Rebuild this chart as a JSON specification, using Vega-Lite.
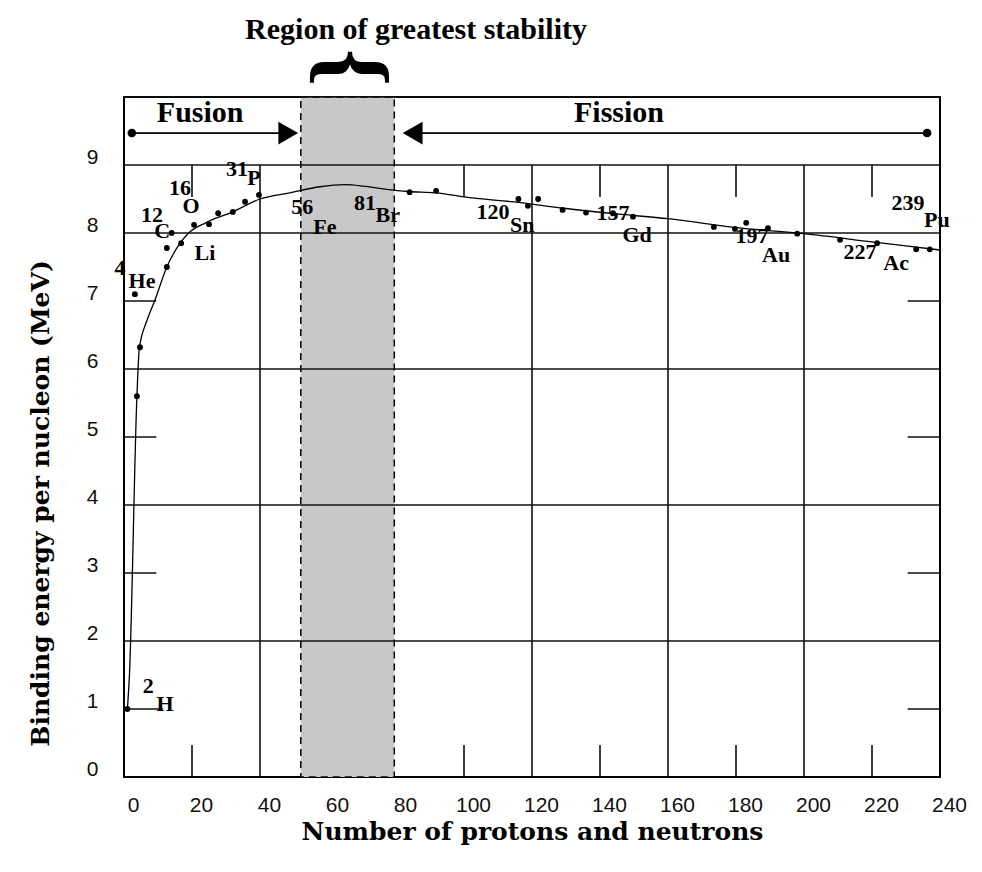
{
  "$schema": "https://vega.github.io/schema/vega-lite/v6.json",
  "width": 816,
  "height": 680,
  "autosize": {"type": "none"},
  "padding": {"left": 124, "top": 97, "right": 42, "bottom": 95},
  "background": "white",
  "config": {"view": {"stroke": "black", "strokeWidth": 2}},
  "datasets": {
    "region": [{"x": 52, "x2": 79.5, "y": 0, "y2": 10}],
    "grid": [
      {"x": 0, "x2": 240, "y": 10, "y2": 10},
      {"x": 0, "x2": 240, "y": 9, "y2": 9},
      {"x": 0, "x2": 240, "y": 8, "y2": 8},
      {"x": 0, "x2": 240, "y": 6, "y2": 6},
      {"x": 0, "x2": 240, "y": 4, "y2": 4},
      {"x": 0, "x2": 240, "y": 2, "y2": 2},
      {"x": 0, "x2": 9.5, "y": 7, "y2": 7},
      {"x": 0, "x2": 9.5, "y": 5, "y2": 5},
      {"x": 0, "x2": 9.5, "y": 3, "y2": 3},
      {"x": 0, "x2": 11.5, "y": 1, "y2": 1},
      {"x": 230.5, "x2": 240, "y": 7, "y2": 7},
      {"x": 230.5, "x2": 240, "y": 5, "y2": 5},
      {"x": 230.5, "x2": 240, "y": 3, "y2": 3},
      {"x": 230.5, "x2": 240, "y": 1, "y2": 1},
      {"x": 40, "x2": 40, "y": 0, "y2": 9},
      {"x": 120, "x2": 120, "y": 0, "y2": 9},
      {"x": 160, "x2": 160, "y": 0, "y2": 9},
      {"x": 200, "x2": 200, "y": 0, "y2": 9},
      {"x": 20, "x2": 20, "y": 8.53, "y2": 9},
      {"x": 100, "x2": 100, "y": 8.53, "y2": 9},
      {"x": 140, "x2": 140, "y": 8.53, "y2": 9},
      {"x": 180, "x2": 180, "y": 8.53, "y2": 9},
      {"x": 220, "x2": 220, "y": 8.53, "y2": 9},
      {"x": 20, "x2": 20, "y": 0, "y2": 0.47},
      {"x": 100, "x2": 100, "y": 0, "y2": 0.47},
      {"x": 140, "x2": 140, "y": 0, "y2": 0.47},
      {"x": 180, "x2": 180, "y": 0, "y2": 0.47},
      {"x": 220, "x2": 220, "y": 0, "y2": 0.47}
    ],
    "curve": [
      {"x": 1.0, "y": 1.0}, {"x": 1.6, "y": 1.5}, {"x": 3.8, "y": 5.6}, {"x": 4.5, "y": 6.3},
      {"x": 6.8, "y": 6.72}, {"x": 9, "y": 7.0}, {"x": 12.6, "y": 7.5}, {"x": 16.5, "y": 7.85}, {"x": 19, "y": 8.0},
      {"x": 24, "y": 8.15}, {"x": 32, "y": 8.31}, {"x": 40, "y": 8.5}, {"x": 48.8, "y": 8.59},
      {"x": 57.6, "y": 8.68}, {"x": 65, "y": 8.71}, {"x": 70.3, "y": 8.69}, {"x": 76.2, "y": 8.65},
      {"x": 83.5, "y": 8.61}, {"x": 91.8, "y": 8.59}, {"x": 100, "y": 8.53}, {"x": 116, "y": 8.45},
      {"x": 130, "y": 8.36}, {"x": 145, "y": 8.28}, {"x": 160, "y": 8.21}, {"x": 180, "y": 8.08},
      {"x": 200, "y": 7.99}, {"x": 220, "y": 7.87}, {"x": 240, "y": 7.75}
    ],
    "dots": [
      {"x": 1, "y": 1.0}, {"x": 3.8, "y": 5.6}, {"x": 4.7, "y": 6.32}, {"x": 3.2, "y": 7.1},
      {"x": 12.6, "y": 7.5}, {"x": 12.6, "y": 7.78}, {"x": 16.8, "y": 7.85}, {"x": 14, "y": 8.0},
      {"x": 20.6, "y": 8.12}, {"x": 25, "y": 8.13}, {"x": 27.7, "y": 8.29}, {"x": 32, "y": 8.31},
      {"x": 35.6, "y": 8.46}, {"x": 39.7, "y": 8.56}, {"x": 84, "y": 8.6}, {"x": 91.8, "y": 8.62},
      {"x": 116, "y": 8.5}, {"x": 118.8, "y": 8.4}, {"x": 121.8, "y": 8.5}, {"x": 129, "y": 8.34},
      {"x": 135.9, "y": 8.3}, {"x": 143.8, "y": 8.29}, {"x": 149.7, "y": 8.24}, {"x": 173.5, "y": 8.09},
      {"x": 179.7, "y": 8.06}, {"x": 183, "y": 8.15}, {"x": 189.4, "y": 8.07}, {"x": 198, "y": 7.99},
      {"x": 210.6, "y": 7.9}, {"x": 221.5, "y": 7.85}, {"x": 233, "y": 7.76}, {"x": 237, "y": 7.76}
    ],
    "arrows": [
      {"x": 2.3, "x2": 50, "y": 9.47, "y2": 9.47},
      {"x": 85, "x2": 236.2, "y": 9.47, "y2": 9.47}
    ],
    "arrowEnds": [{"x": 2.3, "y": 9.47}, {"x": 236.2, "y": 9.47}],
    "headRight": [{"x": 48.3, "y": 9.47}],
    "headLeft": [{"x": 84.9, "y": 9.47}],
    "labels": [
      {"t": "2", "x": 7.1, "y": 1.34}, {"t": "H", "x": 12.1, "y": 1.07},
      {"t": "4", "x": -1.2, "y": 7.49}, {"t": "He", "x": 5.3, "y": 7.29},
      {"t": "12", "x": 8.2, "y": 8.26}, {"t": "C", "x": 11.2, "y": 8.03},
      {"t": "16", "x": 16.5, "y": 8.66}, {"t": "O", "x": 19.7, "y": 8.4},
      {"t": "Li", "x": 23.8, "y": 7.71},
      {"t": "31", "x": 33.2, "y": 8.94}, {"t": "P", "x": 38.2, "y": 8.81},
      {"t": "56", "x": 52.4, "y": 8.38}, {"t": "Fe", "x": 59.1, "y": 8.09},
      {"t": "81", "x": 70.9, "y": 8.44}, {"t": "Br", "x": 77.6, "y": 8.26},
      {"t": "120", "x": 108.5, "y": 8.31}, {"t": "Sn", "x": 117.1, "y": 8.12},
      {"t": "157", "x": 143.8, "y": 8.29}, {"t": "Gd", "x": 150.9, "y": 7.97},
      {"t": "197", "x": 184.7, "y": 7.96}, {"t": "Au", "x": 191.8, "y": 7.68},
      {"t": "227", "x": 216.5, "y": 7.72}, {"t": "Ac", "x": 227.1, "y": 7.56},
      {"t": "239", "x": 230.6, "y": 8.44}, {"t": "Pu", "x": 239.1, "y": 8.19}
    ],
    "headings": [
      {"t": "Fusion", "x": 22.4, "y": 9.76},
      {"t": "Fission", "x": 145.6, "y": 9.76},
      {"t": "Region of greatest stability", "x": 85.9, "y": 10.99}
    ],
    "brace": [{"t": "{", "x": 67, "y": 10.43}]
  },
  "encoding": {
    "x": {
      "field": "x", "type": "quantitative",
      "scale": {"domain": [0, 240], "nice": false, "zero": false},
      "axis": {
        "title": "Number of protons and neutrons",
        "values": [0, 20, 40, 60, 80, 100, 120, 140, 160, 180, 200, 220, 240],
        "grid": false, "ticks": false, "domain": false, "labelFlush": false,
        "labelFont": "Liberation Sans", "labelFontSize": 21, "labelColor": "#111",
        "labelPadding": 17, "labelOffset": 9,
        "titleFont": "DejaVu Serif", "titleFontWeight": "bold", "titleFontSize": 25, "titleColor": "black",
        "titleBaseline": "middle", "titleX": 408, "titleY": 54
      }
    },
    "y": {
      "field": "y", "type": "quantitative",
      "scale": {"domain": [0, 10], "nice": false, "zero": false},
      "axis": {
        "title": "Binding energy per nucleon  (MeV)",
        "values": [0, 1, 2, 3, 4, 5, 6, 7, 8, 9],
        "grid": false, "ticks": false, "domain": false, "labelFlush": false,
        "labelFont": "Liberation Sans", "labelFontSize": 21, "labelColor": "#111",
        "labelPadding": 26, "labelOffset": -8,
        "titleFont": "DejaVu Serif", "titleFontWeight": "bold", "titleFontSize": 25, "titleColor": "black",
        "titleAngle": -90, "titleBaseline": "middle", "titleAlign": "center", "titleX": -84, "titleY": 406
      }
    }
  },
  "layer": [
    {
      "data": {"name": "region"},
      "mark": {"type": "rect", "fill": "#c8c8c8", "stroke": "black", "strokeWidth": 1.5, "strokeDash": [7, 5]},
      "encoding": {"x2": {"field": "x2"}, "y2": {"field": "y2"}}
    },
    {
      "data": {"name": "grid"},
      "mark": {"type": "rule", "color": "#111", "strokeWidth": 1.6},
      "encoding": {"x2": {"field": "x2"}, "y2": {"field": "y2"}}
    },
    {
      "data": {"name": "curve"},
      "mark": {"type": "line", "color": "black", "strokeWidth": 1.3, "interpolate": "monotone"},
      "encoding": {"order": {"field": "x", "type": "quantitative"}}
    },
    {
      "data": {"name": "dots"},
      "mark": {"type": "point", "shape": "circle", "filled": true, "color": "black", "opacity": 1, "size": 34}
    },
    {
      "data": {"name": "arrows"},
      "mark": {"type": "rule", "color": "black", "strokeWidth": 1.8},
      "encoding": {"x2": {"field": "x2"}, "y2": {"field": "y2"}}
    },
    {
      "data": {"name": "arrowEnds"},
      "mark": {"type": "point", "shape": "circle", "filled": true, "color": "black", "opacity": 1, "size": 75}
    },
    {
      "data": {"name": "headRight"},
      "mark": {"type": "point", "shape": "triangle-right", "filled": true, "color": "black", "opacity": 1, "size": 520}
    },
    {
      "data": {"name": "headLeft"},
      "mark": {"type": "point", "shape": "triangle-left", "filled": true, "color": "black", "opacity": 1, "size": 520}
    },
    {
      "data": {"name": "labels"},
      "mark": {"type": "text", "font": "Liberation Serif", "fontWeight": "bold", "fontSize": 22, "color": "black", "align": "center", "baseline": "middle"},
      "encoding": {"text": {"field": "t"}}
    },
    {
      "data": {"name": "headings"},
      "mark": {"type": "text", "font": "Liberation Serif", "fontWeight": "bold", "fontSize": 30, "color": "black", "align": "center", "baseline": "middle"},
      "encoding": {"text": {"field": "t"}}
    },
    {
      "data": {"name": "brace"},
      "mark": {"type": "text", "font": "Liberation Serif", "fontWeight": "bold", "fontSize": 96, "color": "black", "align": "center", "baseline": "middle", "angle": 90},
      "encoding": {"text": {"field": "t"}}
    }
  ]
}
